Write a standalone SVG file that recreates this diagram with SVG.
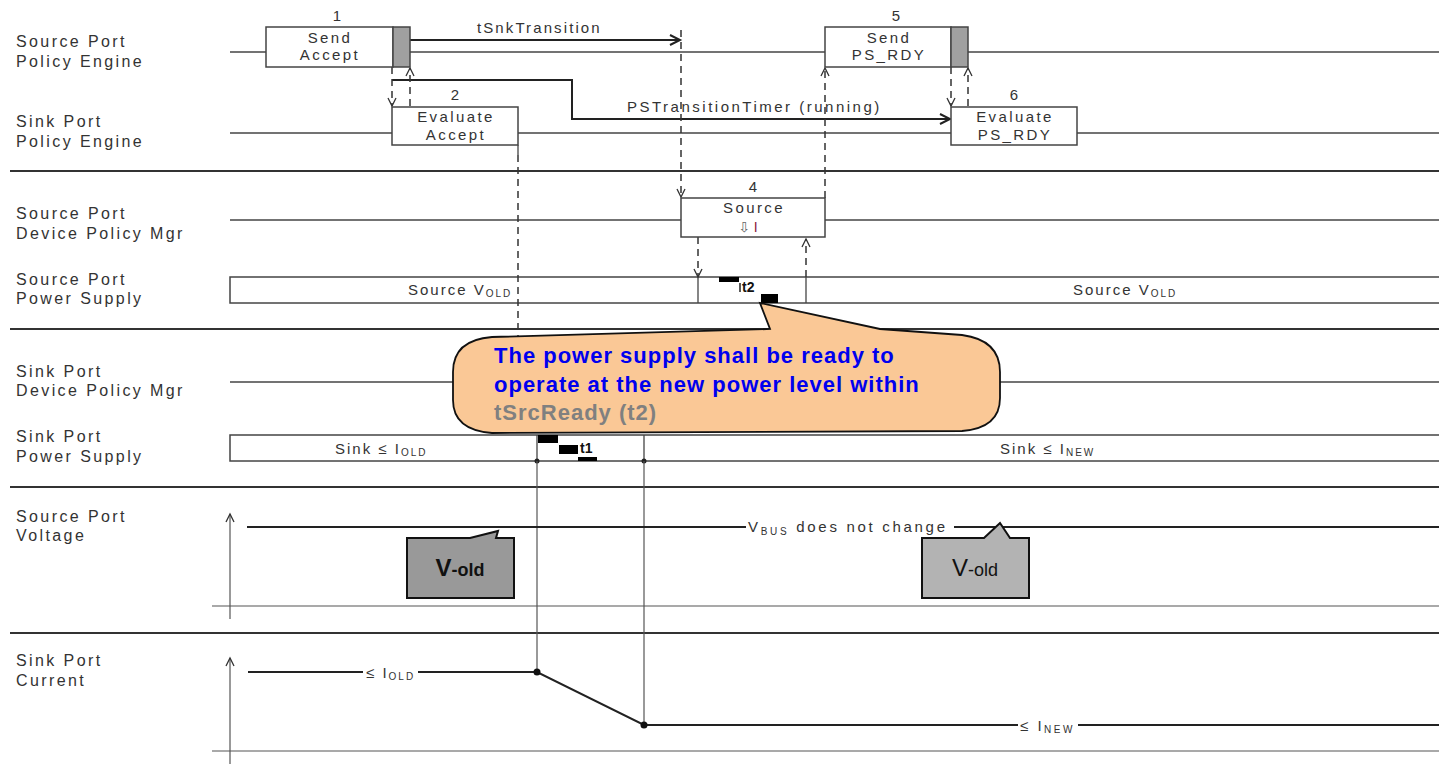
<svg xmlns="http://www.w3.org/2000/svg" width="1439" height="773" viewBox="0 0 1439 773">
<defs>
<style>
text{font-family:"Liberation Sans","DejaVu Sans",Arial,sans-serif;fill:#333}
.lbl{font-size:16px;letter-spacing:2.4px}
.bx{font-size:15px;letter-spacing:2.4px;text-anchor:middle}
.num{font-size:15px;text-anchor:middle}
.row{stroke:#444;stroke-width:1.3;fill:none}
.sep{stroke:#333;stroke-width:2.2}
.box{fill:#fff;stroke:#444;stroke-width:1.5}
.gray{fill:#a0a0a0;stroke:#444;stroke-width:1.5}
.dash{stroke:#333;stroke-width:1.5;stroke-dasharray:7,5;fill:none}
.solid{stroke:#222;stroke-width:2;fill:none}
.thin{stroke:#555;stroke-width:1.2;fill:none}
.blk{fill:#000}
.call{font-size:22px;font-weight:bold;letter-spacing:1px}
.blue{fill:#0000EE}
.grey{fill:#808080}
.dk{fill:#111}
.sig{stroke:#222;stroke-width:2;fill:none}
</style>
<marker id="ah" markerUnits="userSpaceOnUse" markerWidth="14" markerHeight="14" refX="11" refY="6" orient="auto"><path d="M1,1 L11,6 L1,11" fill="none" stroke="#222" stroke-width="2"/></marker>
<marker id="ahs" markerUnits="userSpaceOnUse" markerWidth="12" markerHeight="12" refX="9" refY="5" orient="auto"><path d="M1,1 L9,5 L1,9" fill="none" stroke="#333" stroke-width="1.3"/></marker>
</defs>
<rect width="1439" height="773" fill="#fff"/>

<g id="lane-labels">
<text class="lbl" x="16" y="47">Source Port</text><text class="lbl" x="16" y="67">Policy Engine</text>
<text class="lbl" x="16" y="127">Sink Port</text><text class="lbl" x="16" y="147">Policy Engine</text>
<text class="lbl" x="16" y="219">Source Port</text><text class="lbl" x="16" y="239">Device Policy Mgr</text>
<text class="lbl" x="16" y="285">Source Port</text><text class="lbl" x="16" y="304">Power Supply</text>
<text class="lbl" x="16" y="377">Sink Port</text><text class="lbl" x="16" y="396">Device Policy Mgr</text>
<text class="lbl" x="16" y="442">Sink Port</text><text class="lbl" x="16" y="462">Power Supply</text>
<text class="lbl" x="16" y="522">Source Port</text><text class="lbl" x="16" y="541">Voltage</text>
<text class="lbl" x="16" y="666">Sink Port</text><text class="lbl" x="16" y="686">Current</text>
</g>

<g id="lanes">
<line class="row" x1="230" y1="52" x2="1439" y2="52"/>
<line class="row" x1="230" y1="133" x2="1439" y2="133"/>
<line class="row" x1="230" y1="220" x2="1439" y2="220"/>
<line class="row" x1="230" y1="382" x2="1439" y2="382"/>
<line class="sep" x1="10" y1="171" x2="1439" y2="171"/>
<line class="sep" x1="10" y1="329" x2="1439" y2="329"/>
<line class="sep" x1="10" y1="487" x2="1439" y2="487"/>
<line class="sep" x1="10" y1="633" x2="1439" y2="633"/>
</g>

<g id="src-power-supply">
<rect class="box" x="230" y="277" width="1215" height="26"/>
<line class="row" x1="698" y1="277" x2="698" y2="303"/>
<line class="row" x1="806" y1="277" x2="806" y2="303"/>
<text x="408" y="295" font-size="15" letter-spacing="2">Source V<tspan font-size="10" dy="2">OLD</tspan></text>
<text x="1073" y="295" font-size="15" letter-spacing="2">Source V<tspan font-size="10" dy="2">OLD</tspan></text>
<rect class="blk" x="719" y="277" width="20" height="5"/>
<line x1="740" y1="283" x2="740" y2="292" stroke="#222" stroke-width="1.5"/>
<text class="dk" x="742" y="292" font-size="14" font-weight="bold">t2</text>
<rect class="blk" x="761" y="294" width="17" height="9"/>
</g>

<g id="sink-power-supply">
<rect class="box" x="230" y="435" width="1215" height="26"/>
<line class="row" x1="537" y1="435" x2="537" y2="461"/>
<line class="row" x1="644" y1="435" x2="644" y2="461"/>
<text x="335" y="454" font-size="15" letter-spacing="2">Sink ≤ I<tspan font-size="10" dy="2">OLD</tspan></text>
<text x="1000" y="454" font-size="15" letter-spacing="2">Sink ≤ I<tspan font-size="10" dy="2">NEW</tspan></text>
<rect class="blk" x="538" y="435" width="20" height="8"/>
<rect class="blk" x="559" y="445" width="19" height="9"/>
<text class="dk" x="580" y="453" font-size="14" font-weight="bold">t1</text>
<rect class="blk" x="578" y="457" width="19" height="4"/>
<circle cx="537" cy="461" r="2.5" fill="#222"/>
<circle cx="644" cy="461" r="2.5" fill="#222"/>
</g>

<g id="connectors">
<line class="solid" x1="410" y1="40" x2="680" y2="40" marker-end="url(#ah)"/>
<polyline class="solid" points="392,80 572,80 572,119 950,119" marker-end="url(#ah)"/>
<line class="dash" x1="681" y1="30" x2="681" y2="197" marker-end="url(#ahs)"/>
<line class="dash" x1="392" y1="67" x2="392" y2="106" marker-end="url(#ahs)"/>
<line class="dash" x1="410" y1="106" x2="410" y2="68" marker-end="url(#ahs)"/>
<line class="row" x1="518" y1="145" x2="518" y2="155"/>
<line class="dash" x1="518" y1="155" x2="518" y2="345"/>
<line class="dash" x1="825" y1="198" x2="825" y2="68" marker-end="url(#ahs)"/>
<line class="dash" x1="951" y1="67" x2="951" y2="106" marker-end="url(#ahs)"/>
<line class="dash" x1="968" y1="106" x2="968" y2="68" marker-end="url(#ahs)"/>
<line class="dash" x1="698" y1="237" x2="698" y2="277" marker-end="url(#ahs)"/>
<line class="dash" x1="806" y1="277" x2="806" y2="239" marker-end="url(#ahs)"/>
<line class="thin" x1="537" y1="461" x2="537" y2="672"/>
<line class="thin" x1="644" y1="461" x2="644" y2="725"/>
</g>
<text x="477" y="33" font-size="15" letter-spacing="2.1">tSnkTransition</text>
<text x="627" y="112" font-size="15" letter-spacing="2.5">PSTransitionTimer (running)</text>

<g id="n1">
<rect class="box" x="266" y="27" width="127" height="40"/>
<rect class="gray" x="393" y="27" width="17" height="40"/>
<text class="num" x="337" y="21">1</text>
<text class="bx" x="330" y="43">Send</text><text class="bx" x="330" y="60">Accept</text>
</g>
<g id="n2">
<rect class="box" x="392" y="107" width="126" height="38"/>
<text class="num" x="455" y="100">2</text>
<text class="bx" x="456" y="122">Evaluate</text><text class="bx" x="456" y="140">Accept</text>
</g>
<g id="n4">
<rect class="box" x="681" y="198" width="144" height="39"/>
<text class="num" x="753" y="192">4</text>
<text class="bx" x="754" y="213">Source</text>
<text x="748" y="232" font-size="14" text-anchor="middle" style="fill:#666">⇩ <tspan style="fill:#8a1a3a">I</tspan></text>
</g>
<g id="n5">
<rect class="box" x="825" y="27" width="126" height="40"/>
<rect class="gray" x="951" y="27" width="17" height="40"/>
<text class="num" x="896" y="21">5</text>
<text class="bx" x="889" y="43">Send</text><text class="bx" x="889" y="60">PS_RDY</text>
</g>
<g id="n6">
<rect class="box" x="951" y="107" width="126" height="38"/>
<text class="num" x="1014" y="100">6</text>
<text class="bx" x="1015" y="122">Evaluate</text><text class="bx" x="1015" y="140">PS_RDY</text>
</g>

<g id="callout">
<path d="M453,372 Q453,340 492,337 L770,329 L760,303 L880,329 L962,335 Q1000,340 1000,372 L1000,398 Q1000,428 962,431 L492,433 Q453,430 453,400 Z" fill="#FAC896" stroke="#111" stroke-width="1.8"/>
<text class="call blue" x="494" y="363">The power supply shall be ready to</text>
<text class="call blue" x="494" y="392">operate at the new power level within</text>
<text class="call grey" x="494" y="420">tSrcReady (t2)</text>
</g>

<g id="voltage">
<line class="thin" x1="230" y1="619" x2="230" y2="514" marker-end="url(#ahs)"/>
<line class="thin" x1="212" y1="606" x2="1439" y2="606"/>
<line class="sig" x1="247" y1="527" x2="746" y2="527"/>
<line class="sig" x1="954" y1="527" x2="1439" y2="527"/>
<text x="748" y="532" font-size="15" letter-spacing="2.7">V<tspan font-size="10" dy="3">BUS</tspan><tspan dy="-3"> does not change</tspan></text>
</g>
<g id="vold-dark">
<path d="M407,538 L470,538 L498,531 L496,538 L514,538 L514,598 L407,598 Z" fill="#999" stroke="#111" stroke-width="2"/>
<text class="dk" x="460" y="576" text-anchor="middle" font-weight="bold"><tspan font-size="24">V</tspan><tspan font-size="18">-old</tspan></text>
</g>
<g id="vold-light">
<path d="M922,538 L984,538 L1000,523 L1010,538 L1029,538 L1029,598 L922,598 Z" fill="#b3b3b3" stroke="#111" stroke-width="2"/>
<text class="dk" x="975" y="576" text-anchor="middle"><tspan font-size="24">V</tspan><tspan font-size="18">-old</tspan></text>
</g>

<g id="current">
<line class="thin" x1="230" y1="764" x2="230" y2="658" marker-end="url(#ahs)"/>
<line class="thin" x1="212" y1="751" x2="1439" y2="751"/>
<polyline class="sig" points="248,672 363,672"/>
<polyline class="sig" points="418,672 537,672 644,725 1018,725"/>
<line class="sig" x1="1078" y1="725" x2="1439" y2="725"/>
<circle cx="537" cy="672" r="3.5" fill="#111"/>
<circle cx="644" cy="725" r="3.5" fill="#111"/>
<text x="366" y="678" font-size="15" letter-spacing="2">≤ I<tspan font-size="10" dy="2">OLD</tspan></text>
<text x="1020" y="731" font-size="15" letter-spacing="2.5">≤ I<tspan font-size="10" dy="2">NEW</tspan></text>
</g>
</svg>
